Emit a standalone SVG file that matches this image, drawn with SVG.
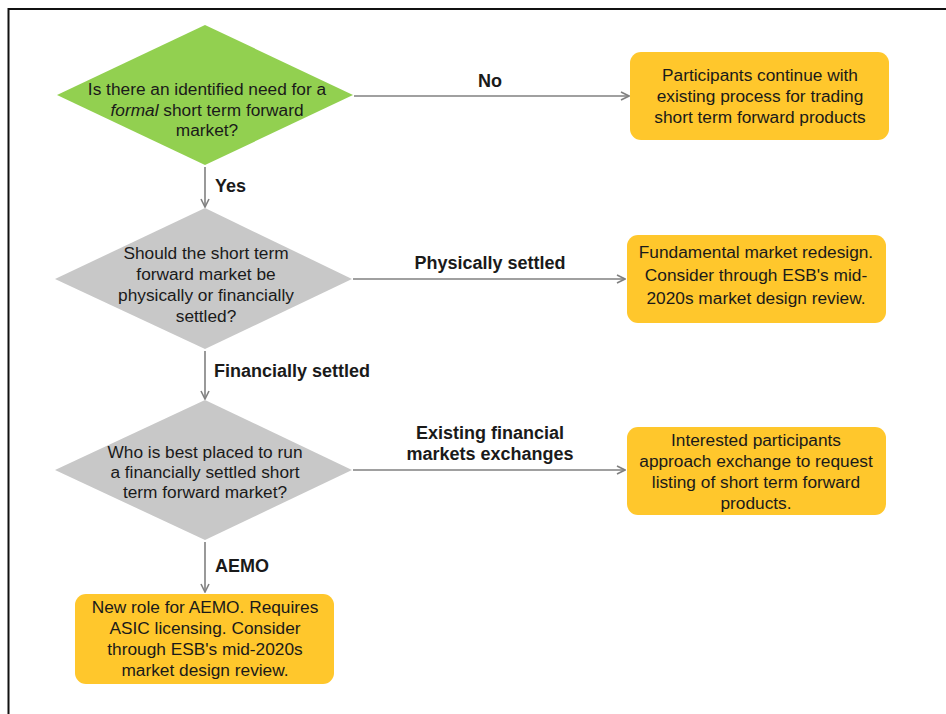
<svg xmlns="http://www.w3.org/2000/svg" width="946" height="714" viewBox="0 0 946 714">
<style>
.t{font-family:"Liberation Sans",Arial,sans-serif;font-size:17.3px;fill:#1a1a1a;text-anchor:middle}
.l{font-family:"Liberation Sans",Arial,sans-serif;font-size:18px;font-weight:bold;fill:#1a1a1a}
.c{stroke:#808080;stroke-width:1.6;fill:none}
.box{fill:#FFC72C}
</style>
<defs>
<marker id="ah" viewBox="0 0 10 10" refX="9" refY="5" markerWidth="10" markerHeight="10" markerUnits="userSpaceOnUse" orient="auto">
<path d="M1,1 L9,5 L1,9" fill="none" stroke="#808080" stroke-width="1.6"/>
</marker>
</defs>
<rect x="0" y="0" width="946" height="714" fill="#fff"/>
<rect x="8.5" y="9" width="960" height="720" fill="none" stroke="#111" stroke-width="2"/>

<g id="connectors">
<line class="c" x1="354" y1="96" x2="629" y2="96" marker-end="url(#ah)"/>
<text class="l" x="490" y="87" text-anchor="middle">No</text>
<line class="c" x1="205" y1="167" x2="205" y2="207" marker-end="url(#ah)"/>
<text class="l" x="215" y="192">Yes</text>
<line class="c" x1="353" y1="279" x2="625" y2="279" marker-end="url(#ah)"/>
<text class="l" x="490" y="269" text-anchor="middle">Physically settled</text>
<line class="c" x1="205" y1="351" x2="205" y2="399" marker-end="url(#ah)"/>
<text class="l" x="214" y="377">Financially settled</text>
<line class="c" x1="353" y1="470" x2="625" y2="470" marker-end="url(#ah)"/>
<text class="l" x="490" y="439" text-anchor="middle">Existing financial</text>
<text class="l" x="490" y="460" text-anchor="middle">markets exchanges</text>
<line class="c" x1="205" y1="542" x2="205" y2="592" marker-end="url(#ah)"/>
<text class="l" x="215" y="572">AEMO</text>
</g>

<g id="q1">
<polygon points="205,25 353,95 205,165 57,95" fill="#92D050"/>
<text class="t" x="207" y="95">Is there an identified need for a</text>
<text class="t" x="207" y="116"><tspan font-style="italic">formal</tspan> short term forward</text>
<text class="t" x="207" y="136">market?</text>
</g>

<g id="q2">
<polygon points="205,208 352,279 205,349 55,279" fill="#C8C8C8"/>
<text class="t" x="206" y="259">Should the short term</text>
<text class="t" x="206" y="280">forward market be</text>
<text class="t" x="206" y="301">physically or financially</text>
<text class="t" x="206" y="322">settled?</text>
</g>

<g id="q3">
<polygon points="205,400 352,470 205,540 55,470" fill="#C8C8C8"/>
<text class="t" x="205" y="458">Who is best placed to run</text>
<text class="t" x="205" y="478">a financially settled short</text>
<text class="t" x="205" y="498">term forward market?</text>
</g>

<g id="b1">
<rect class="box" x="630" y="52" width="259" height="88" rx="11"/>
<text class="t" x="760" y="81">Participants continue with</text>
<text class="t" x="760" y="102">existing process for trading</text>
<text class="t" x="760" y="123">short term forward products</text>
</g>

<g id="b2">
<rect class="box" x="627" y="235" width="259" height="88" rx="11"/>
<text class="t" x="756" y="258">Fundamental market redesign.</text>
<text class="t" x="756" y="281">Consider through ESB's mid-</text>
<text class="t" x="756" y="304">2020s market design review.</text>
</g>

<g id="b3">
<rect class="box" x="627" y="427" width="259" height="88" rx="11"/>
<text class="t" x="756" y="446">Interested participants</text>
<text class="t" x="756" y="467">approach exchange to request</text>
<text class="t" x="756" y="488">listing of short term forward</text>
<text class="t" x="756" y="509">products.</text>
</g>

<g id="b4">
<rect class="box" x="75" y="594" width="259" height="90" rx="11"/>
<text class="t" x="205" y="613">New role for AEMO. Requires</text>
<text class="t" x="205" y="634">ASIC licensing. Consider</text>
<text class="t" x="205" y="655">through ESB's mid-2020s</text>
<text class="t" x="205" y="676">market design review.</text>
</g>
</svg>
